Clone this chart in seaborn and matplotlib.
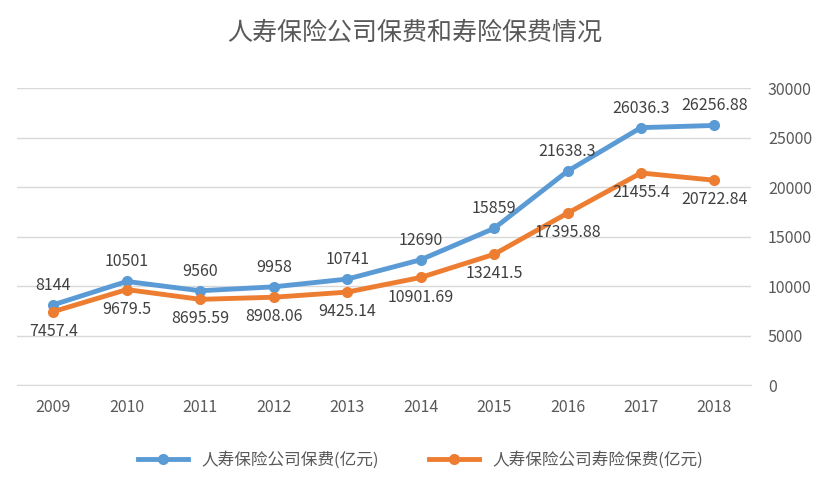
import numpy as np
import pandas as pd
import seaborn as sns
import matplotlib.pyplot as plt

plt.rcParams['font.family'] = 'sans-serif'
plt.rcParams['font.sans-serif'] = ['Noto Sans CJK SC', 'Noto Sans CJK JP', 'Noto Sans CJK TC',
                                   'Noto Sans CJK KR', 'DejaVu Sans']

years = ['2009', '2010', '2011', '2012', '2013', '2014', '2015', '2016', '2017', '2018']
premium = [8144, 10501, 9560, 9958, 10741, 12690, 15859, 21638.3, 26036.3, 26256.88]
life_premium = [7457.4, 9679.5, 8695.59, 8908.06, 9425.14, 10901.69, 13241.5, 17395.88, 21455.4, 20722.84]
premium_labels = ['8144', '10501', '9560', '9958', '10741', '12690', '15859', '21638.3', '26036.3', '26256.88']
life_labels = ['7457.4', '9679.5', '8695.59', '8908.06', '9425.14', '10901.69', '13241.5', '17395.88', '21455.4', '20722.84']

df = pd.DataFrame({'year': years, 'a': premium, 'b': life_premium})
x = np.arange(len(years))

fig = plt.figure(figsize=(8.3, 4.91), dpi=100)
ax = fig.add_axes([0.02, 0.215, 0.885, 0.605])

sns.lineplot(x=x, y=df['a'], ax=ax, color='#5B9BD5', lw=3.5, marker='o', ms=8,
             markeredgewidth=0, label='人寿保险公司保费(亿元)')
sns.lineplot(x=x, y=df['b'], ax=ax, color='#ED7D31', lw=3.5, marker='o', ms=8,
             markeredgewidth=0, label='人寿保险公司寿险保费(亿元)')

for i in range(len(years)):
    ax.annotate(premium_labels[i], (x[i], premium[i]), xytext=(0, 8), textcoords='offset points',
                ha='center', va='bottom', fontsize=11.5, color='#404040')
    ax.annotate(life_labels[i], (x[i], life_premium[i]), xytext=(0, -8), textcoords='offset points',
                ha='center', va='top', fontsize=11.5, color='#404040')

ax.set_xlim(-0.5, len(years) - 0.5)
ax.set_ylim(0, 30000)
ax.set_yticks(range(0, 30001, 5000))
ax.set_xticks(x)
ax.set_xticklabels(years)
ax.yaxis.tick_right()
ax.tick_params(axis='both', length=0, labelsize=11.5, colors='#595959')
ax.tick_params(axis='y', pad=12)
ax.tick_params(axis='x', pad=10)
ax.grid(axis='y', color='#D9D9D9', lw=1)
ax.set_axisbelow(True)
for s in ax.spines.values():
    s.set_visible(False)
ax.spines['bottom'].set_visible(True)
ax.spines['bottom'].set_color('#D9D9D9')
ax.set_xlabel('')
ax.set_ylabel('')

ax.legend(loc='upper center', bbox_to_anchor=(0.55, -0.17), ncol=2, frameon=False,
          fontsize=12, labelcolor='#595959', columnspacing=3, handlelength=3)
fig.suptitle('人寿保险公司保费和寿险保费情况', y=0.96, fontsize=18, color='#595959')

fig.savefig('out.png', dpi=100)
